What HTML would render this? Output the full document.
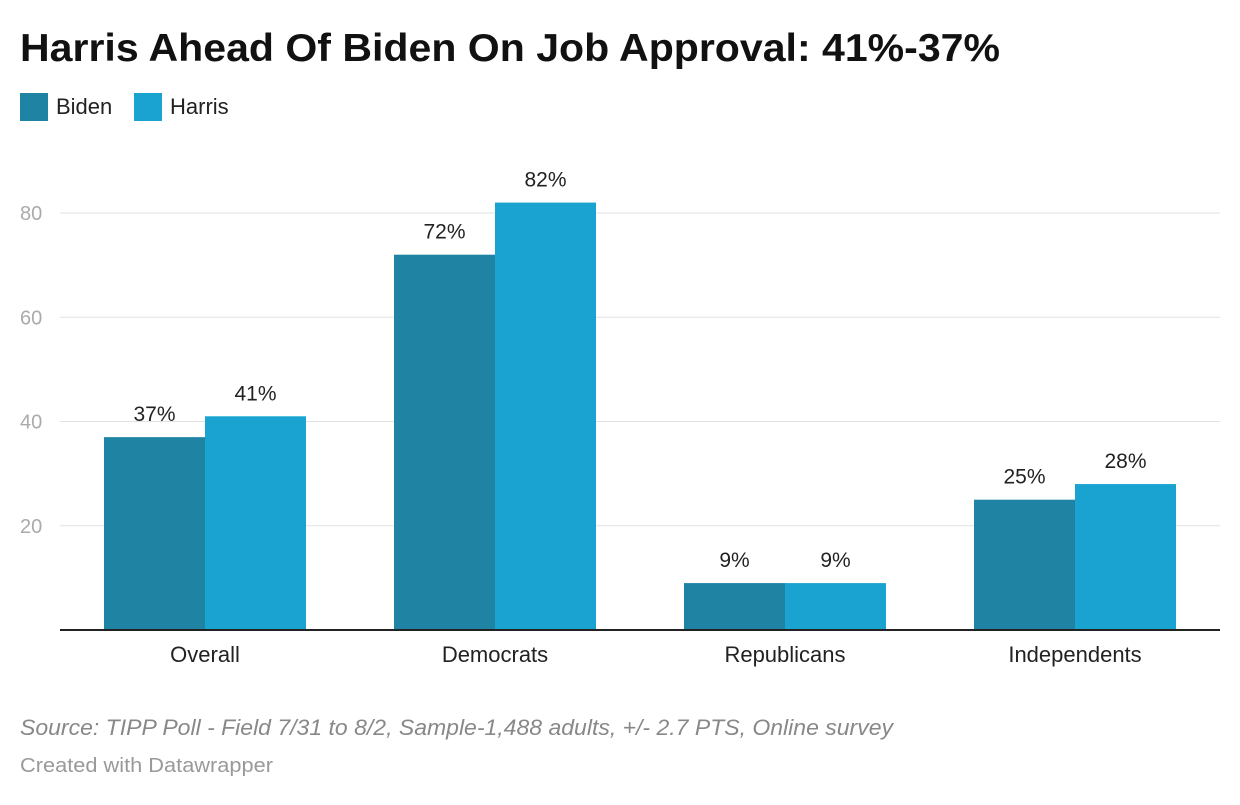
<!DOCTYPE html>
<html><head><meta charset="utf-8"><style>
body{margin:0;background:#fff;width:1240px;height:800px;overflow:hidden;font-family:"Liberation Sans",Arial,sans-serif}
</style></head><body>
<svg width="1240" height="800" xmlns="http://www.w3.org/2000/svg">
<text x="20" y="61" font-size="39" font-weight="bold" fill="#111" textLength="980" lengthAdjust="spacingAndGlyphs">Harris Ahead Of Biden On Job Approval: 41%-37%</text>
<g>
<rect x="20" y="93" width="28" height="28" fill="#1f83a4"/>
<text x="56" y="114" font-size="22" fill="#222">Biden</text>
<rect x="134" y="93" width="28" height="28" fill="#1aa3d0"/>
<text x="170" y="114" font-size="22" fill="#222">Harris</text>
</g>
<g id="plot"></g>
<text x="20" y="735" font-size="22" font-style="italic" fill="#888" textLength="873" lengthAdjust="spacingAndGlyphs">Source: TIPP Poll - Field 7/31 to 8/2, Sample-1,488 adults, +/- 2.7 PTS, Online survey</text>
<text x="20" y="772" font-size="20" fill="#999" textLength="253" lengthAdjust="spacingAndGlyphs">Created with Datawrapper</text>
</svg>
<script>
const categories=["Overall","Democrats","Republicans","Independents"];
const biden=[37,72,9,25];
const harris=[41,82,9,28];
const yTicks=[20,40,60,80];
const NS="http://www.w3.org/2000/svg";
const g=document.getElementById('plot');
const y0=630,pxPer=(630-213)/80;
const y=v=>y0-v*pxPer;
const cx=i=>205+i*290;
function el(t,a){const e=document.createElementNS(NS,t);for(const k in a)e.setAttribute(k,a[k]);g.appendChild(e);return e;}
yTicks.forEach(t=>{
 const l=el('line',{x1:60,x2:1220,y1:y(t),y2:y(t),stroke:'#e2e2e2','stroke-width':1});
 
 
 const tx=el('text',{x:20,y:y(t)+7,'font-size':20,fill:'#aaa'});tx.textContent=t;
 
 
});
const bw=101;
categories.forEach((c,i)=>{
 [[biden,'#1f83a4',-bw,'biden'],[harris,'#1aa3d0',0,'harris']].forEach(([arr,col,off,nm])=>{
  const v=arr[i];
  const r=el('rect',{x:cx(i)+off,y:y(v),width:bw,height:y0-y(v),fill:col});
  
  
  const t=el('text',{x:cx(i)+off+bw/2,y:y(v)-16,'font-size':21,fill:'#222','text-anchor':'middle'});t.textContent=v+'%';
  
  
 });
 const t=el('text',{x:cx(i),y:662,'font-size':22,fill:'#222','text-anchor':'middle'});t.textContent=c;
 
 
});
const b=el('line',{x1:60,x2:1220,y1:y0,y2:y0,stroke:'#222','stroke-width':2});


</script>
</body></html>
